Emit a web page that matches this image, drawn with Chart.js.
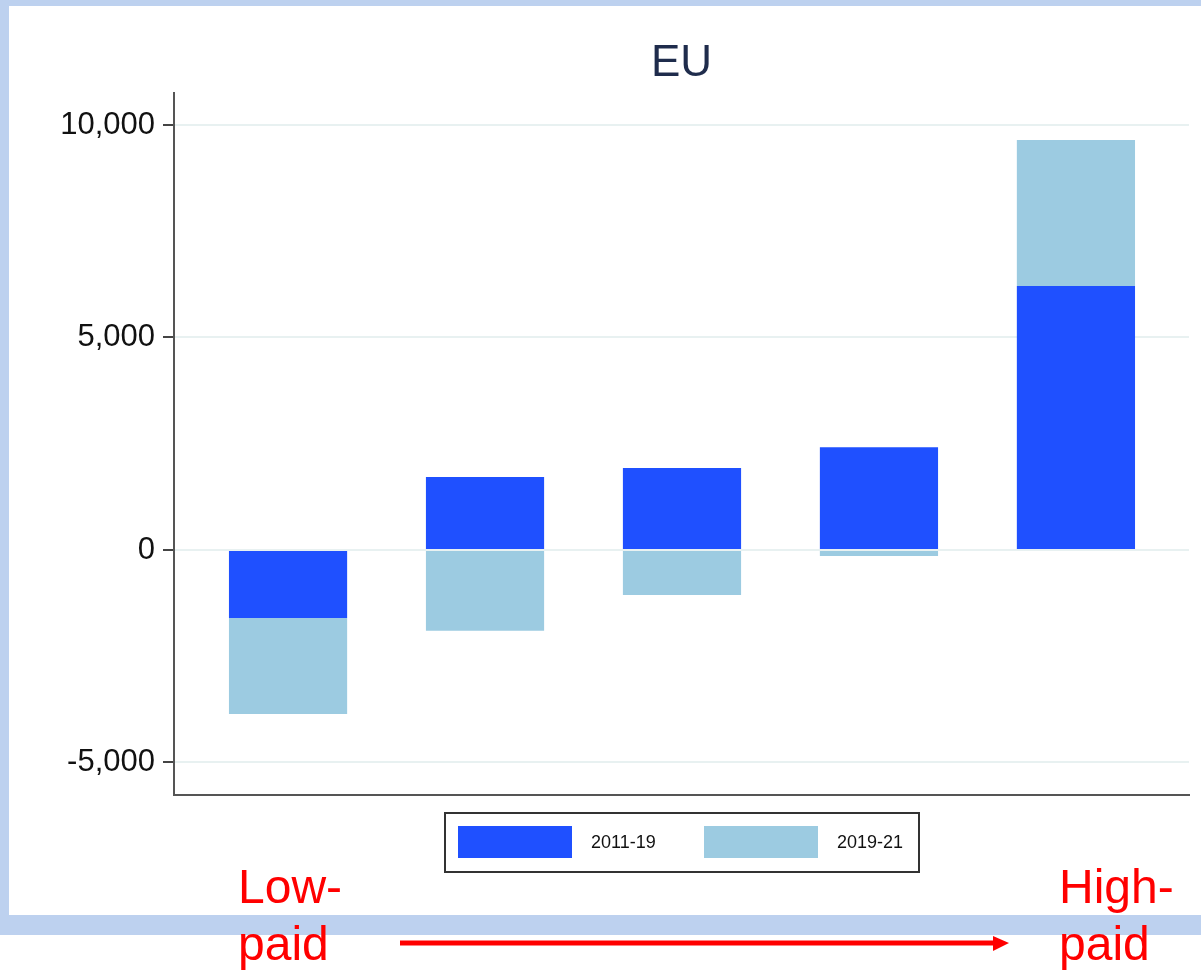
<!DOCTYPE html>
<html>
<head>
<meta charset="utf-8">
<script src="https://cdn.jsdelivr.net/npm/chart.js@4"></script>
<style>
  html, body { margin: 0; padding: 0; background: #fff; }
  body { width: 1201px; height: 970px; position: relative; overflow: hidden; font-family: "Liberation Sans", Arial, sans-serif; }
  .band { position: absolute; background: #bdd1ef; }
  #wrap { position: absolute; left: 9px; top: 6px; width: 1192px; height: 909px; }
  .note { position: absolute; color: #ff0000; font-size: 48px; line-height: 57px; z-index: 5; }
  #arrow { position: absolute; left: 0; top: 0; z-index: 4; }
</style>
</head>
<body>
<div class="band" style="left:0;top:0;width:1201px;height:6px"></div>
<div class="band" style="left:0;top:0;width:9px;height:935px"></div>
<div class="band" style="left:0;top:915px;width:1201px;height:20px"></div>
<div id="wrap"><canvas id="euChart" width="1192" height="909"></canvas></div>
<svg id="arrow" width="1201" height="970">
  <line x1="400" y1="943" x2="996" y2="943" stroke="#ff0000" stroke-width="5"/>
  <polygon points="993,936 1009,943 993,951" fill="#ff0000"/>
</svg>
<div class="note" style="left:238px;top:858px">Low-<br>paid</div>
<div class="note" style="left:1059px;top:858px">High-<br>paid</div>
<script>
// Data
const groups = [0, 1, 2, 3, 4];
const period1 = [-1600, 1720, 1930, 2420, 6210];   // 2011-19
const period2 = [-2260, -1900, -1060, -140, 3440]; // 2019-21
const yTicks = [-5000, 0, 5000, 10000];
const seriesNames = ["2011-19", "2019-21"];
const seriesColors = ["#1f50ff", "#9ccbe1"];

const toPoints = (vals) => groups.map((g, i) => ({ x: g, y: vals[i] }));

// Title + boxed legend drawn by hand
const decorPlugin = {
  id: "decor",
  afterDraw(chart) {
    const ctx = chart.ctx;
    const area = chart.chartArea;
    const cx = (area.left + area.right) / 2;

    ctx.save();
    ctx.fillStyle = "#1f2c4c";
    ctx.font = '44px "Liberation Sans", Arial, sans-serif';
    ctx.textAlign = "center";
    ctx.textBaseline = "middle";
    ctx.fillText("EU", cx, 58);

    // legend box
    const boxW = 474, boxH = 59;
    const bx = Math.round(cx - boxW / 2);
    const by = area.bottom + 18;
    ctx.strokeStyle = "#333";
    ctx.lineWidth = 2;
    ctx.strokeRect(bx, by, boxW, boxH);

    const offsets = [13, 259];
    ctx.font = '18px "Liberation Sans", Arial, sans-serif';
    ctx.textAlign = "left";
    chart.data.datasets.forEach((ds, i) => {
      const sx = bx + offsets[i];
      ctx.fillStyle = ds.backgroundColor;
      ctx.fillRect(sx, by + 13, 114, 32);
      ctx.fillStyle = "#111";
      ctx.fillText(ds.label, sx + 133, by + 30);
    });
    ctx.restore();
  },
};

const ctx = document.getElementById("euChart").getContext("2d");
new Chart(ctx, {
  type: "bar",
  data: {
    datasets: [
      {
        label: seriesNames[0],
        data: toPoints(period1),
        backgroundColor: seriesColors[0],
        borderWidth: 0,
      },
      {
        label: seriesNames[1],
        data: toPoints(period2),
        backgroundColor: seriesColors[1],
        borderWidth: 0,
      },
    ],
  },
  options: {
    responsive: false,
    animation: false,
    layout: { padding: { top: 87, right: 12, bottom: 120, left: 0 } },
    barPercentage: 0.6,
    categoryPercentage: 1,
    plugins: {
      legend: { display: false },
      title: { display: false },
      tooltip: { enabled: false },
    },
    scales: {
      x: {
        type: "linear",
        stacked: true,
        offset: false,
        min: -0.579,
        max: 4.574,
        afterBuildTicks: (scale) => {
          scale.ticks = groups.map((g) => ({ value: g }));
        },
        ticks: { display: false },
        grid: { display: false },
        border: { display: true, color: "#555", width: 2 },
        afterFit: (scale) => { scale.height = 0; },
      },
      y: {
        stacked: true,
        min: -5765,
        max: 10753,
        afterBuildTicks: (scale) => {
          scale.ticks = yTicks.map((v) => ({ value: v }));
        },
        afterFit: (scale) => { scale.width = 165; },
        ticks: {
          padding: 8,
          color: "#111",
          font: { family: '"Liberation Sans", Arial, sans-serif', size: 31 },
          callback: (v) => v.toLocaleString("en-US"),
        },
        grid: {
          color: "#e8f1f1",
          lineWidth: 2,
          tickLength: 11,
          tickColor: "#444",
          tickWidth: 2,
        },
        border: { display: true, color: "#555", width: 2 },
      },
    },
  },
  plugins: [decorPlugin],
});
</script>
</body>
</html>
